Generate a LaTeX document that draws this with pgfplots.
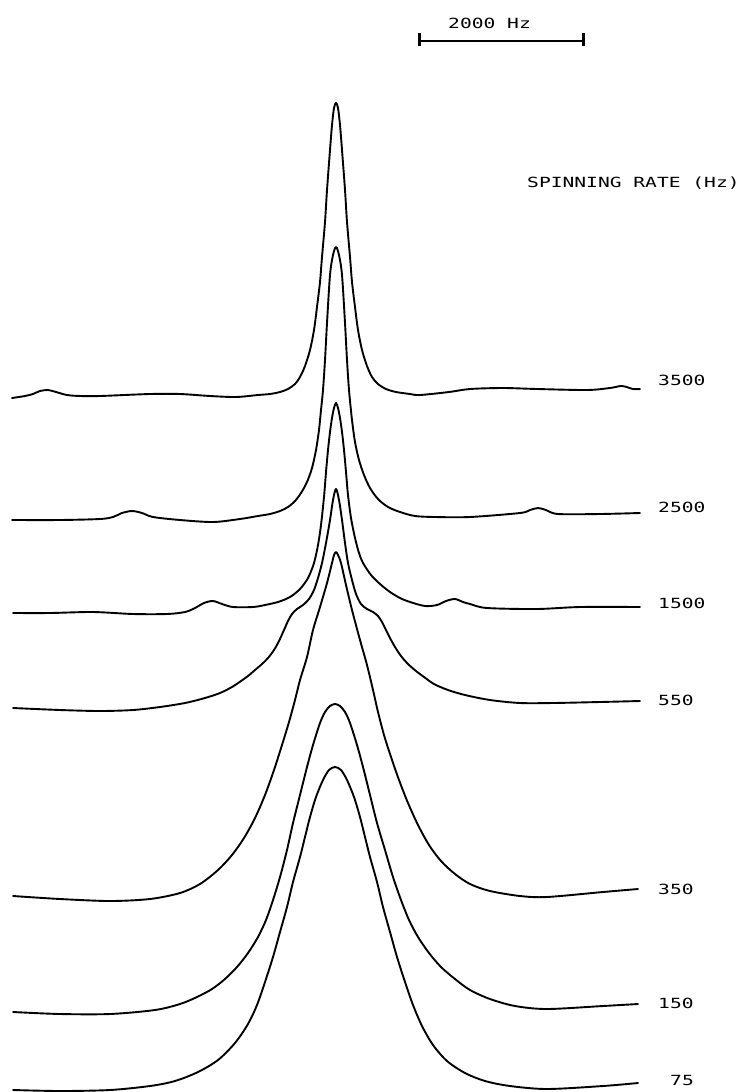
\documentclass[border=0pt]{standalone}
\usepackage{pgfplots}
\pgfplotsset{compat=1.18}
\usepackage{fontspec}
\newfontfamily\plotfont[FakeStretch=1.4]{DejaVu Sans Mono}
\begin{document}
\begin{tikzpicture}
\begin{axis}[
  scale only axis, width=739bp, height=1092bp,
  xmin=0, xmax=739, ymin=0, ymax=1092, y dir=reverse,
  hide axis, clip=false,
  spec/.style={black, solid, line width=1.9bp, smooth, tension=0.5, mark=none, line join=round, line cap=round},
]
\path (rel axis cs:0,0) rectangle (rel axis cs:1,1);
% 3500 Hz
\addplot[spec] coordinates {(12,398)(25,396)(33,394)(40,391)(48,390)(56,392)(67,395)(80,396)(100,396)(150,394)(180,394)(210,396)(236,397)(258,395)(270,394)(280,392)(288,389)(295,384)(300,377)(305,366)(310,350)(314,330)(317,307)(320,282)(322,257)(325,222)(327,190)(330,150)(332,125)(334,108)(336,103)(338,108)(340,125)(342,150)(345,190)(347,222)(350,257)(352,282)(355,307)(358,330)(362,350)(367,366)(372,377)(378,384)(386,389)(396,392)(410,394)(420,395)(449,392)(470,389)(503,388)(537,389)(587,390)(610,388)(622,386)(633,389)(640,389)};
% 2500 Hz
\addplot[spec] coordinates {(12,520)(60,520)(100,519)(113,517)(122,513)(132,511)(142,513)(153,517)(180,520)(213,522)(240,519)(258,516)(270,514)(280,511)(288,507)(295,501)(301,493)(307,482)(312,468)(316,450)(319,430)(321,410)(323,390)(325,360)(327,323)(330,275)(333,255)(336,247)(339,255)(342,275)(345,323)(347,360)(349,390)(352,420)(355,442)(359,460)(364,475)(370,488)(378,499)(388,507)(400,512)(415,516)(435,517)(470,517)(520,513)(530,510)(538,508)(546,510)(558,514)(600,514)(640,513)};
% 1500 Hz
\addplot[spec] coordinates {(13,613)(50,613)(93,612)(133,614)(167,614)(185,612)(195,608)(204,603)(213,601)(222,604)(233,607)(253,607)(265,605)(278,602)(290,597)(300,589)(308,578)(314,563)(318,545)(321,525)(324,497)(326,472)(328,450)(330,432)(332,418)(334,408)(336,403)(338,408)(340,418)(342,432)(344,450)(346,472)(348,495)(351,518)(355,538)(359,553)(363,563)(371,575)(380,584)(390,592)(400,598)(410,602)(425,606)(437,605)(446,601)(455,599)(463,602)(470,604)(487,608)(537,609)(580,607)(640,607)};
% 550 Hz
\addplot[spec] coordinates {(13,708)(60,710)(100,711)(133,710)(160,707)(185,703)(205,698)(220,693)(232,687)(241,681)(248,676)(255,670)(262,664)(268,658)(274,650)(279,641)(284,630)(288,621)(292,614)(297,609)(303,605)(309,599)(314,590)(318,578)(322,563)(326,543)(330,520)(333,500)(336,489)(339,500)(342,520)(345,543)(348,563)(352,580)(356,594)(361,604)(367,609)(373,612)(378,616)(382,622)(386,630)(390,638)(395,647)(401,656)(408,664)(416,671)(424,677)(434,684)(448,690)(465,695)(490,700)(520,703)(553,703)(600,702)(640,701)};
% 350 Hz
\addplot[spec] coordinates {(13,896)(60,899)(110,901)(150,899)(180,893)(200,884)(218,870)(232,855)(244,838)(255,818)(265,795)(274,770)(282,745)(289,722)(295,700)(300,680)(307,657)(313,630)(320,607)(327,583)(332,563)(334,555)(336,552)(338,555)(341,563)(346,585)(352,610)(360,640)(367,665)(373,690)(378,712)(384,735)(391,757)(399,780)(408,803)(418,825)(429,845)(441,861)(455,874)(470,884)(490,891)(520,896)(547,897)(603,892)(638,889)};
% 150 Hz
\addplot[spec] coordinates {(13,1012)(60,1014)(110,1014)(155,1010)(180,1004)(197,997)(212,989)(225,979)(237,967)(248,953)(258,937)(266,920)(273,900)(280,877)(287,850)(293,823)(300,795)(307,767)(313,745)(320,723)(325,712)(330,706)(335,704)(340,706)(345,712)(350,723)(357,745)(363,767)(370,795)(377,823)(385,850)(393,877)(401,900)(409,920)(418,937)(429,953)(441,967)(455,979)(470,990)(490,999)(515,1006)(547,1009)(603,1006)(638,1004)};
% 75 Hz
\addplot[spec] coordinates {(13,1090)(60,1091)(110,1090)(150,1086)(175,1081)(198,1072)(218,1060)(235,1043)(248,1024)(257,1005)(265,982)(273,957)(280,932)(287,907)(293,882)(300,857)(305,837)(310,817)(316,797)(323,780)(329,770)(335,767)(341,770)(347,780)(354,797)(360,817)(365,837)(370,857)(377,882)(383,907)(390,932)(397,957)(405,982)(413,1005)(422,1026)(433,1045)(447,1061)(465,1073)(485,1081)(510,1086)(547,1089)(603,1086)(638,1083)};
% labels
\tikzset{lab/.style={font=\plotfont\fontsize{14bp}{16bp}\selectfont, inner sep=0pt, anchor=west}}
\node[lab] at (axis cs:658,380) {3500};
\node[lab] at (axis cs:658,507) {2500};
\node[lab] at (axis cs:658,603) {1500};
\node[lab] at (axis cs:658,700) {550};
\node[lab] at (axis cs:658,889) {350};
\node[lab] at (axis cs:658,1003) {150};
\node[lab] at (axis cs:670,1080) {75};
\node[lab] at (axis cs:527,183) {SPINNING RATE (Hz)};
\node[lab] at (axis cs:448,23) {2000 Hz};
\draw[line width=2bp] (axis cs:419,41) -- (axis cs:583,41);
\draw[line width=3bp] (axis cs:419,33) -- (axis cs:419,46);
\draw[line width=3bp] (axis cs:583,33) -- (axis cs:583,46);
\end{axis}
\end{tikzpicture}
\end{document}
